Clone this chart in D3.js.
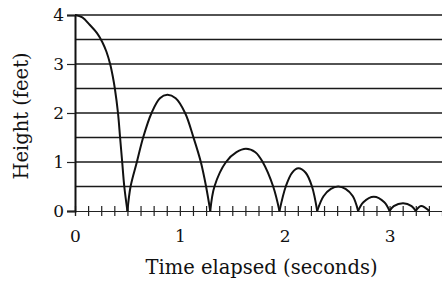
<!DOCTYPE html>
<html>
<head>
<meta charset="utf-8">
<script src="https://cdn.jsdelivr.net/npm/d3@7"></script>
<style>
  html, body { margin: 0; padding: 0; background: #fff; }
  svg text { font-family: "DejaVu Serif", "Liberation Serif", serif; fill: #111; }
</style>
</head>
<body>
<div id="chart"></div>
<script>
// Bouncing ball: one array of [time, height] points per arc
const arc1 = [[0, 4], [0.07, 3.95], [0.14, 3.8], [0.21, 3.63], [0.26, 3.45], [0.3, 3.25], [0.335, 3], [0.36, 2.75], [0.38, 2.5], [0.41, 2], [0.43, 1.5], [0.45, 1], [0.47, 0.5], [0.5, 0]];
const arc2 = [[0.5, 0], [0.53, 0.5], [0.59, 1], [0.65, 1.5], [0.73, 2], [0.81, 2.3], [0.88, 2.37], [0.96, 2.3], [1.05, 2], [1.13, 1.5], [1.2, 1], [1.25, 0.5], [1.29, 0]];
const arc3 = [[1.29, 0], [1.33, 0.5], [1.44, 1], [1.54, 1.2], [1.63, 1.27], [1.72, 1.2], [1.79, 1], [1.89, 0.5], [1.95, 0]];
const arc4 = [[1.95, 0], [2.01, 0.5], [2.07, 0.78], [2.13, 0.87], [2.2, 0.78], [2.26, 0.5], [2.31, 0]];
const arc5 = [[2.31, 0], [2.37, 0.3], [2.44, 0.45], [2.51, 0.5], [2.58, 0.45], [2.65, 0.3], [2.7, 0]];
const arc6 = [[2.7, 0], [2.75, 0.18], [2.85, 0.29], [2.95, 0.18], [3.0, 0]];
const arc7 = [[3.0, 0], [3.04, 0.1], [3.13, 0.16], [3.21, 0.1], [3.25, 0]];
const arc8 = [[3.25, 0], [3.3, 0.1], [3.38, 0]];
const arcs = [arc1, arc2, arc3, arc4, arc5, arc6, arc7, arc8];

const gridValues = [0.5, 1, 1.5, 2, 2.5, 3, 3.5, 4];
const yTickLabels = [0, 1, 2, 3, 4];
const xTickLabels = [0, 1, 2, 3];
const xMinorTicks = d3.range(0, 3.5, 0.125);

const width = 442, height = 287;
const margin = { top: 15, right: 0, bottom: 76, left: 75 };

const svg = d3.select('#chart').append('svg')
    .attr('width', width)
    .attr('height', height);

const x = d3.scaleLinear().domain([0, 3.5]).range([margin.left, width - margin.right]);
const y = d3.scaleLinear().domain([0, 4]).range([height - margin.bottom, margin.top]);

// horizontal grid lines every half foot
svg.append('g')
    .selectAll('line')
    .data(gridValues)
    .join('line')
    .attr('x1', x(0))
    .attr('x2', x(3.5))
    .attr('y1', d => y(d))
    .attr('y2', d => y(d))
    .attr('stroke', '#1a1a1a')
    .attr('stroke-width', 1.6);

// x axis with ticks crossing the line
const xAxis = svg.append('g')
    .attr('transform', `translate(0,${y(0)})`)
    .call(d3.axisBottom(x).tickValues(xMinorTicks).tickSize(5).tickFormat(''));
xAxis.select('.domain').attr('stroke', '#222').attr('stroke-width', 1.2);
xAxis.selectAll('.tick line').attr('y1', -5).attr('stroke', '#222').attr('stroke-width', 1.2);

svg.append('g')
    .attr('transform', `translate(0,${y(0) + 16})`)
    .call(d3.axisBottom(x).tickValues(xTickLabels).tickSize(0).tickFormat(d3.format('d')))
    .call(g => g.select('.domain').remove())
    .selectAll('text')
    .attr('font-size', 17)
    .attr('font-family', '"DejaVu Serif", serif')
    .attr('fill', '#111');

// y axis
const yAxis = svg.append('g')
    .attr('transform', `translate(${x(0)},0)`)
    .call(d3.axisLeft(y).tickValues(yTickLabels).tickSize(8).tickPadding(3).tickFormat(d3.format('d')));
yAxis.select('.domain').attr('stroke', '#111').attr('stroke-width', 2);
yAxis.selectAll('.tick line').attr('stroke', '#222').attr('stroke-width', 1.2);
yAxis.selectAll('text')
    .attr('font-size', 17)
    .attr('font-family', '"DejaVu Serif", serif')
    .attr('fill', '#111');

// the bounces
const line = d3.line()
    .x(d => x(d[0]))
    .y(d => y(d[1]))
    .curve(d3.curveCatmullRom.alpha(0.5));

svg.append('g')
    .selectAll('path')
    .data(arcs)
    .join('path')
    .attr('d', line)
    .attr('fill', 'none')
    .attr('stroke', '#111')
    .attr('stroke-width', 2);

// axis titles
svg.append('text')
    .attr('x', (x(0) + x(3.5)) / 2 + 3)
    .attr('y', 274)
    .attr('text-anchor', 'middle')
    .attr('font-size', 19.5)
    .text('Time elapsed (seconds)');

svg.append('text')
    .attr('transform', `translate(28,${(y(0) + y(4)) / 2 + 3}) rotate(-90)`)
    .attr('text-anchor', 'middle')
    .attr('font-size', 19.5)
    .text('Height (feet)');
</script>
</body>
</html>
